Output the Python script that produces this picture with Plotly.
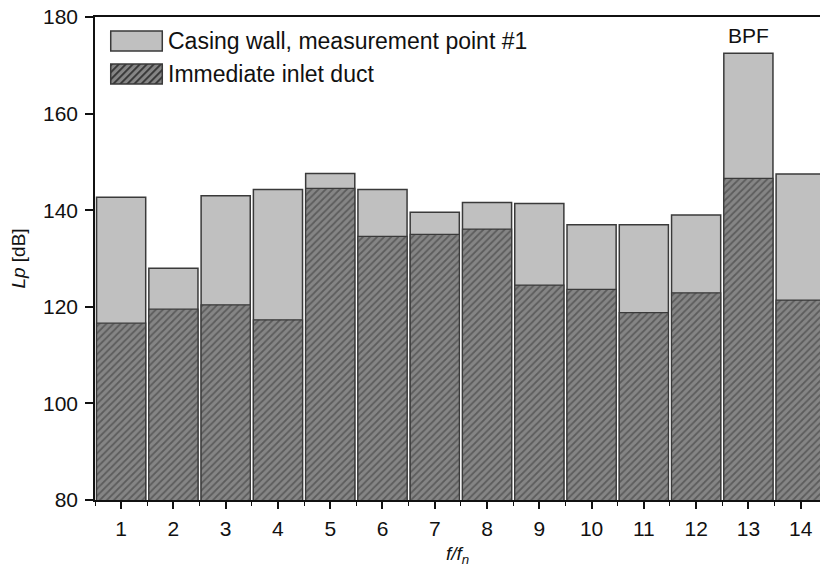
import base64
import plotly.graph_objects as go

# ---- data ----
harmonics = list(range(1, 15))
casing_wall = [142.7, 128.0, 143.0, 144.3, 147.6, 144.3, 139.6, 141.6, 141.4, 137.0, 137.0, 139.0, 172.5, 147.5]
inlet_duct = [116.6, 119.5, 120.4, 117.3, 144.5, 134.6, 135.0, 136.1, 124.5, 123.6, 118.8, 122.9, 146.6, 121.4]
series_names = ["Casing wall, measurement point #1", "Immediate inlet duct"]
y_ticks = [80, 100, 120, 140, 160, 180]
bpf_index = 13

FONT = "Liberation Sans, Arial, sans-serif"
LIGHT = "#c0c0c0"
HATCH_BG = "#858585"
HATCH_FG = "#333333"
EDGE = "#3a3a3a"

fig = go.Figure()
fig.add_trace(go.Bar(
    x=harmonics, y=casing_wall, name=series_names[0], width=0.94,
    marker=dict(color=LIGHT, line=dict(color=EDGE, width=1.5)),
    showlegend=False,
))
fig.add_trace(go.Bar(
    x=harmonics, y=inlet_duct, name=series_names[1], width=0.94,
    marker=dict(color=HATCH_BG, line=dict(color=EDGE, width=1.2),
                pattern=dict(shape="/", fgcolor=HATCH_FG, bgcolor=HATCH_BG, size=5, solidity=0.35)),
    showlegend=False,
))

fig.update_layout(
    width=820, height=578,
    barmode="overlay",
    paper_bgcolor="white", plot_bgcolor="white",
    margin=dict(l=95, r=0, t=17, b=78, autoexpand=False),
    font=dict(family=FONT, size=21, color="#111111"),
)
fig.update_xaxes(
    range=[0.5, 14.37], tickmode="array", tickvals=harmonics,
    ticks="outside", ticklen=7, tickwidth=1.5, tickcolor="#111",
    showline=True, linecolor="#111", linewidth=1.5, mirror=True,
    showgrid=False, zeroline=False, automargin=False,
    minor=dict(ticks="outside", ticklen=4, tickwidth=1.2, tickcolor="#111", dtick=0.5, tick0=0.5, showgrid=False),
    tickfont=dict(size=21), ticklabelstandoff=2,
    title=dict(text="<i>f/f<sub>n</sub></i>", font=dict(size=19), standoff=8),
)
fig.update_yaxes(
    range=[80, 180], tickvals=y_ticks,
    ticks="outside", ticklen=8, tickwidth=1.5, tickcolor="#111",
    showline=True, linecolor="#111", linewidth=1.5, mirror=False,
    showgrid=False, zeroline=False, automargin=False,
    tickfont=dict(size=21), ticklabelstandoff=3,
    title=dict(text="<i>Lp</i> [dB]", font=dict(size=19), standoff=12),
)

# BPF label above bar 13
fig.add_annotation(x=harmonics[bpf_index - 1], y=casing_wall[bpf_index - 1], text="BPF",
                   showarrow=False, yanchor="bottom", yshift=4, font=dict(size=21))

# ---- custom legend ----
sx0, sx1 = 0.0217, 0.0928
rows = [(0.971, 0.9296), (0.9027, 0.8613)]
fig.add_shape(type="rect", xref="paper", yref="paper", x0=sx0, x1=sx1, y0=rows[0][1], y1=rows[0][0],
              fillcolor=LIGHT, line=dict(color=EDGE, width=1.5))
svg = (
    '<svg xmlns="http://www.w3.org/2000/svg" width="52" height="20">'
    '<defs><pattern id="h" width="5" height="5" patternUnits="userSpaceOnUse" patternTransform="rotate(45)">'
    f'<rect width="5" height="5" fill="{HATCH_BG}"/><rect width="1.8" height="5" fill="{HATCH_FG}"/></pattern></defs>'
    '<rect x="0" y="0" width="52" height="20" fill="url(#h)"/></svg>'
)
src = "data:image/svg+xml;base64," + base64.b64encode(svg.encode()).decode()
fig.add_layout_image(source=src, xref="paper", yref="paper", x=sx0, y=rows[1][0],
                     sizex=sx1 - sx0, sizey=rows[1][0] - rows[1][1],
                     xanchor="left", yanchor="top", sizing="stretch", layer="above")
fig.add_shape(type="rect", xref="paper", yref="paper", x0=sx0, x1=sx1, y0=rows[1][1], y1=rows[1][0],
              line=dict(color=EDGE, width=1.5))
for (top, bot), name in zip(rows, series_names):
    fig.add_annotation(xref="paper", yref="paper", x=sx1 + 0.005, y=(top + bot) / 2, text=name,
                       showarrow=False, xanchor="left", yanchor="middle", font=dict(size=23))

fig.write_html("out.html", config={"displayModeBar": False},
               post_script="document.body.style.margin='0';document.body.style.overflow='hidden';")
